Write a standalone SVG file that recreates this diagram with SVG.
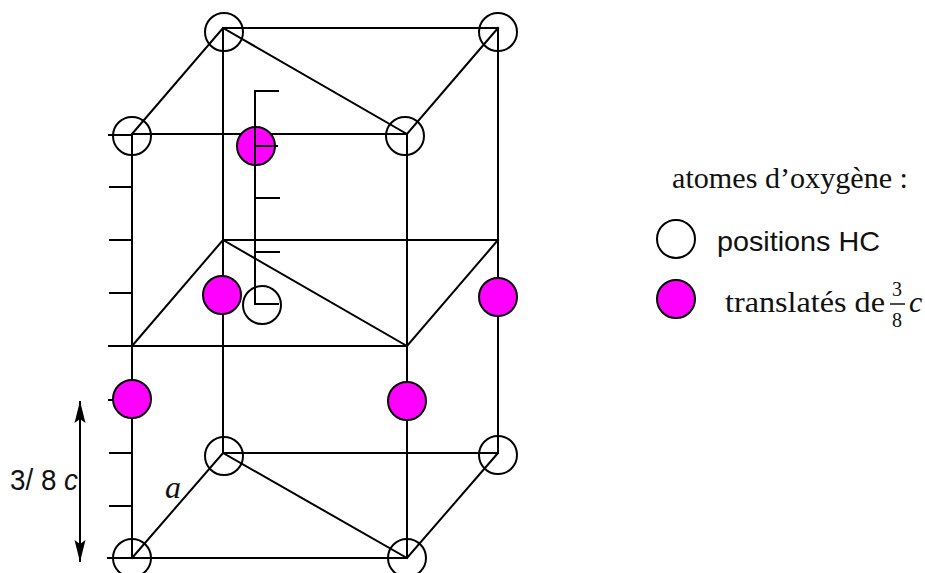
<svg xmlns="http://www.w3.org/2000/svg" width="925" height="573" viewBox="0 0 925 573">
<style>
.l{stroke:#000;stroke-width:2;fill:none;stroke-linecap:square}
.o{stroke:#000;stroke-width:2;fill:none}
.w{stroke:#000;stroke-width:2;fill:#fff}
.m{stroke:#000;stroke-width:2;fill:#f0f}
.s{font-family:"Liberation Serif",serif;font-size:30px;fill:#111}
.f{font-family:"Liberation Serif",serif;font-size:20px;fill:#111}
.a{font-family:"Liberation Sans",Arial,sans-serif;fill:#111}
</style>
<defs><marker id="ah" markerUnits="userSpaceOnUse" markerWidth="22" markerHeight="12" refX="22" refY="6" viewBox="0 0 22 12" orient="auto-start-reverse" overflow="visible"><path d="M0 0.5L22 6L0 11.5L4 6Z" fill="#000"/></marker></defs>
<rect width="925" height="573" fill="#fff"/>
<g id="connectors">
<path class="l" d="M223 28H498M132 134H407M223 240H498M132 346H407M223 453H498M132 558H407"/>
<path class="l" d="M132 134L223 28L407 134L498 28M132 346L223 240L407 346L498 240M132 558L223 453L407 558L498 453"/>
<path class="l" d="M132 134V558M223 28V453M407 134V558M498 28V453"/>
<path class="l" d="M109 135H132M110 187H131M110 240H131M110 293H131M109 346H131M109 400H115M110 453H131M110 506H131M108 558H131"/>
</g>
<g id="atom-top-back-left"><circle class="o" cx="224" cy="32" r="19"/></g>
<g id="atom-top-back-right"><circle class="o" cx="498" cy="32" r="19"/></g>
<g id="atom-top-front-left"><circle class="o" cx="132" cy="136" r="19"/></g>
<g id="atom-top-front-right"><circle class="o" cx="405" cy="136" r="19"/></g>
<g id="atom-mid-center"><circle class="o" cx="262" cy="305" r="19"/></g>
<g id="atom-bottom-back-left"><circle class="o" cx="224" cy="456" r="19"/></g>
<g id="atom-bottom-back-right"><circle class="o" cx="498" cy="455" r="19"/></g>
<g id="atom-bottom-front-left"><circle class="o" cx="132" cy="558" r="19"/></g>
<g id="atom-bottom-front-right"><circle class="o" cx="407" cy="558" r="19"/></g>
<g id="trans-1"><circle class="m" cx="256" cy="146" r="19"/></g>
<g id="trans-2"><circle class="m" cx="222" cy="295" r="19"/></g>
<g id="trans-3"><circle class="m" cx="498" cy="297" r="19"/></g>
<g id="trans-4"><circle class="m" cx="132" cy="399" r="19"/></g>
<g id="trans-5"><circle class="m" cx="407" cy="401" r="19"/></g>
<g id="ruler"><path class="l" d="M255 91V304H278M255 91H278M256 146H277M257 198H279M257 252H279"/></g>
<g id="dimension">
<line x1="80" y1="401" x2="80" y2="562" stroke="#000" stroke-width="2" marker-start="url(#ah)" marker-end="url(#ah)"/>
<text class="a" x="10" y="490" font-size="30" textLength="68" lengthAdjust="spacingAndGlyphs">3/ 8 <tspan font-style="italic">c</tspan></text>
</g>
<g id="label-a"><text x="165" y="498" font-family="Liberation Serif,serif" font-style="italic" font-size="32" fill="#111">a</text></g>
<g id="legend">
<text class="s" x="672" y="188" textLength="236" lengthAdjust="spacingAndGlyphs">atomes d’oxygène :</text>
<circle class="w" cx="676" cy="239" r="19"/>
<text class="a" x="717" y="251" font-size="28" textLength="163" lengthAdjust="spacingAndGlyphs">positions HC</text>
<circle class="m" cx="676" cy="299" r="19"/>
<text class="s" x="725" y="312" textLength="160" lengthAdjust="spacingAndGlyphs">translatés de</text>
<text class="f" x="892" y="296">3</text>
<line x1="890" y1="304" x2="905" y2="304" stroke="#111" stroke-width="1.5"/>
<text class="f" x="892" y="327">8</text>
<text class="s" x="909" y="312" font-style="italic">c</text>
</g>
</svg>
